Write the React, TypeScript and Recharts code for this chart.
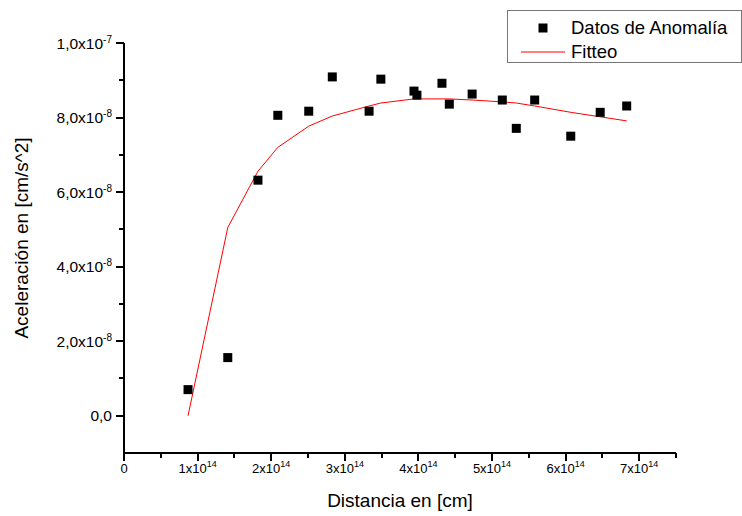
import React from 'react';
import { ComposedChart, Scatter, Line, XAxis, YAxis, Legend, Label } from 'recharts';

// x en unidades de 1e14 cm, y en unidades de 1e-8 cm/s^2
const distancia = [0.87, 1.41, 1.82, 2.09, 2.51, 2.83, 3.33, 3.49, 3.94, 3.98, 4.32, 4.42, 4.73, 5.14, 5.33, 5.58, 6.07, 6.47, 6.83];
const anomalia = [0.7, 1.56, 6.32, 8.06, 8.17, 9.09, 8.17, 9.03, 8.71, 8.6, 8.92, 8.36, 8.63, 8.47, 7.71, 8.47, 7.5, 8.14, 8.31];
const fitteo = [0.0, 5.05, 6.56, 7.2, 7.77, 8.04, 8.31, 8.39, 8.5, 8.5, 8.5, 8.5, 8.47, 8.42, 8.39, 8.31, 8.14, 8.02, 7.91];

const xTicks = [0, 0.5, 1, 1.5, 2, 2.5, 3, 3.5, 4, 4.5, 5, 5.5, 6, 6.5, 7, 7.5];
const yTicks = [0, 1, 2, 3, 4, 5, 6, 7, 8, 9, 10];

const puntos = distancia.map((x, i) => ({ x, y: anomalia[i] }));
const curva = distancia.map((x, i) => ({ x, y: fitteo[i] }));

const FONT = "Arial, 'Liberation Sans', sans-serif";

const XTick = (props: any) => {
  const { x, y, payload } = props;
  const v = payload.value;
  const major = Number.isInteger(v);
  const px = Math.round(x);
  return (
    <g>
      <line x1={px} x2={px} y1={y} y2={y + (major ? 8 : 5)} stroke="#000" strokeWidth={2} />
      {major && (
        <text x={x} y={y + 20} textAnchor="middle" fontFamily={FONT} fontSize={13} fill="#000">
          {v === 0 ? (
            '0'
          ) : (
            <>
              <tspan>{`${v}x10`}</tspan>
              <tspan dy={-6} fontSize={9}>14</tspan>
            </>
          )}
        </text>
      )}
    </g>
  );
};

const YTick = (props: any) => {
  const { x, y, payload } = props;
  const v = payload.value;
  const major = v % 2 === 0;
  const py = Math.round(y);
  let main = '0,0';
  let exp = '';
  if (v === 10) {
    main = '1,0x10';
    exp = '-7';
  } else if (v !== 0) {
    main = `${v},0x10`;
    exp = '-8';
  }
  return (
    <g>
      <line x1={x - (major ? 8 : 5)} x2={x} y1={py} y2={py} stroke="#000" strokeWidth={2} />
      {major && (
        <text x={x - 12} y={y + 5.5} textAnchor="end" fontFamily={FONT} fontSize={15.5} fill="#000">
          <tspan>{main}</tspan>
          {exp && (
            <tspan dy={-6} fontSize={10}>{exp}</tspan>
          )}
        </text>
      )}
    </g>
  );
};

const Leyenda = () => (
  <svg width={236} height={54} style={{ display: 'block' }}>
    <rect x={0.5} y={0.5} width={234} height={52} fill="#fff" stroke="#777" strokeWidth={1} />
    <rect x={31.5} y={13.5} width={9} height={9} fill="#000" />
    <text x={64} y={24} fontFamily={FONT} fontSize={18.5} fill="#000">Datos de Anomalía</text>
    <line x1={14} x2={58} y1={42} y2={42} stroke="#ff0000" strokeWidth={1} />
    <text x={64} y={48} fontFamily={FONT} fontSize={18.5} fill="#000">Fitteo</text>
  </svg>
);

export default function App() {
  return (
    <div style={{ position: 'absolute', left: 0, top: 0, width: 742, height: 516, background: '#fff' }}>
      <ComposedChart width={742} height={516} margin={{ top: 43, right: 66, bottom: 0, left: 0 }}>
        <XAxis
          type="number"
          dataKey="x"
          domain={[0, 7.5]}
          ticks={xTicks}
          interval={0}
          allowDataOverflow
          tickSize={0}
          tickMargin={0}
          tickLine={false}
          tick={<XTick />}
          stroke="#000"
          strokeWidth={2}
          axisLine={{ stroke: '#000', strokeWidth: 2, strokeOpacity: 1 }}
          height={63}
        >
          <Label
            content={() => (
              <text x={400} y={507} textAnchor="middle" fontFamily={FONT} fontSize={19} fill="#000">
                Distancia en [cm]
              </text>
            )}
          />
        </XAxis>
        <YAxis
          type="number"
          dataKey="y"
          domain={[-1, 10]}
          ticks={yTicks}
          interval={0}
          allowDataOverflow
          tickSize={0}
          tickMargin={0}
          tickLine={false}
          tick={<YTick />}
          stroke="#000"
          strokeWidth={2}
          axisLine={{ stroke: '#000', strokeWidth: 2, strokeOpacity: 1 }}
          width={124}
        >
          <Label
            content={() => (
              <text
                x={21}
                y={238}
                transform="rotate(-90 21 238)"
                textAnchor="middle"
                dominantBaseline="central"
                fontFamily={FONT}
                fontSize={19}
                fill="#000"
              >
                Aceleración en [cm/s^2]
              </text>
            )}
          />
        </YAxis>
        <Legend
          layout="horizontal"
          verticalAlign="middle"
          align="center"
          content={() => <Leyenda />}
          wrapperStyle={{ top: 10, left: 507, width: 236, height: 54 }}
        />
        <Line
          data={curva}
          dataKey="y"
          name="Fitteo"
          type="linear"
          stroke="#ff0000"
          strokeWidth={1}
          dot={false}
          activeDot={false}
          isAnimationActive={false}
        />
        <Scatter
          data={puntos}
          dataKey="y"
          name="Datos de Anomalía"
          fill="#000"
          isAnimationActive={false}
          shape={(p: any) => <rect x={p.cx - 4.5} y={p.cy - 4.5} width={9} height={9} fill="#000" />}
        />
      </ComposedChart>
    </div>
  );
}
